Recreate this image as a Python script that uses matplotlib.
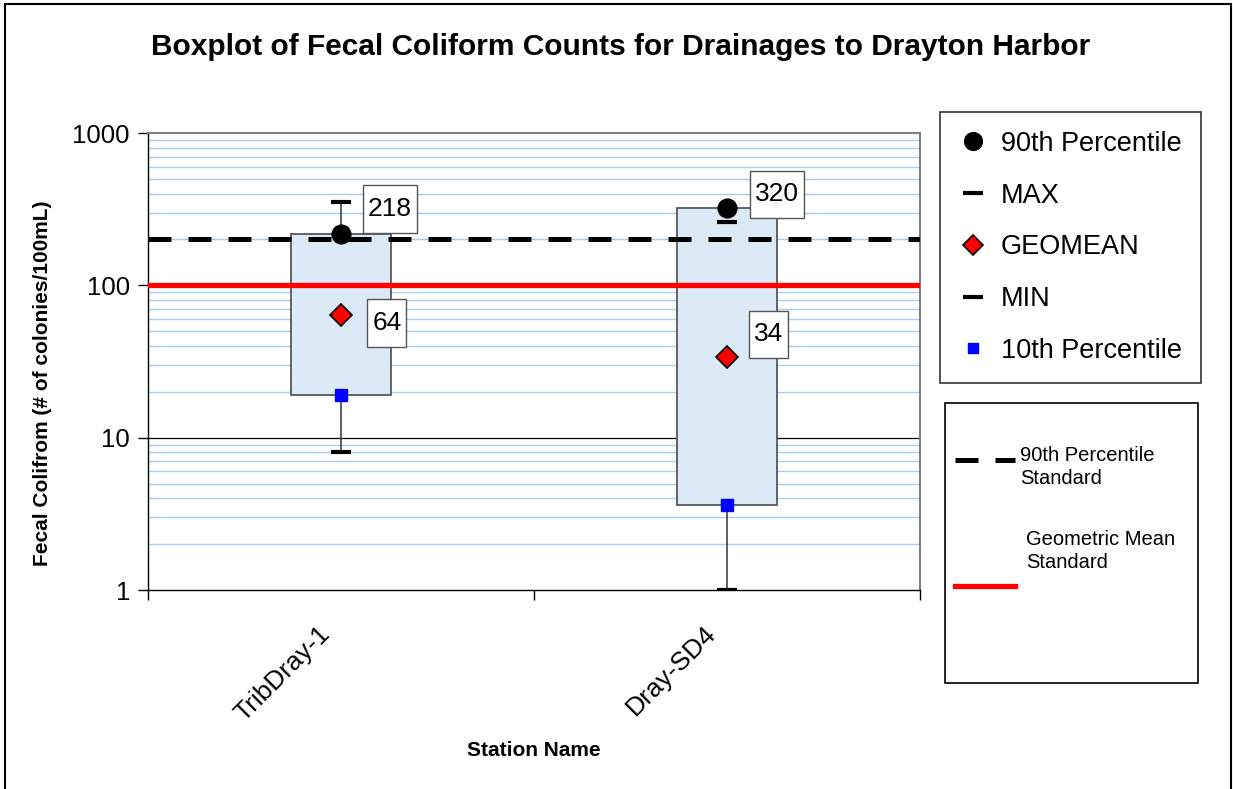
import matplotlib
matplotlib.use("Agg")
import matplotlib.pyplot as plt
import matplotlib.transforms as mtransforms
from matplotlib.lines import Line2D
from matplotlib.patches import Rectangle
from matplotlib.path import Path
from matplotlib.ticker import FixedLocator, FixedFormatter, NullFormatter

plt.rcParams['font.family'] = ['Liberation Sans', 'DejaVu Sans']

# ---- data ----
stations = ['TribDray-1', 'Dray-SD4']
p90 = [218, 320]
vmax = [350, 262]
geomean = [64, 34]
vmin = [8, 1]
p10 = [19, 3.6]
std_90th = 200
std_geomean = 100
ytick_vals = [1, 10, 100, 1000]
ytick_labels = ['1', '10', '100', '1000']

# label offsets (points) for data labels
off_p90 = [(35, 18), (36, 10)]
off_gm = [(33, -6), (30, 16)]

W, H = 1233, 789
fig = plt.figure(figsize=(W / 100, H / 100), dpi=100)
ax = fig.add_axes([148 / W, 1 - 590 / H, (920 - 148) / W, (590 - 133) / H])

x = list(range(len(stations)))
ax.set_yscale('log')
ax.set_ylim(1, 1000)
ax.set_xlim(-0.5, len(stations) - 0.5)

# gridlines: minor light blue, major black
minor_vals = [m * 10 ** e for e in range(0, 3) for m in range(2, 10)]
for v in minor_vals:
    ax.axhline(v, color='#a8cdf0', lw=1.0, zorder=0.5)
ax.axhline(10, color='black', lw=0.9, zorder=0.6)

# whiskers (min to max) behind boxes
for i in x:
    ax.plot([i, i], [vmin[i], vmax[i]], color='#333333', lw=1.1, zorder=1)

# boxes (10th to 90th percentile)
heights = [p90[i] - p10[i] for i in x]
ax.bar(x, heights, bottom=p10, width=0.26, color='#dce9f6',
       edgecolor='#4a4a4a', linewidth=1.2, zorder=2)

# standards
ax.axhline(std_geomean, color='#ff0000', lw=3.8, zorder=3)
ax.axhline(std_90th, color='black', lw=3.6, linestyle=(0, (4.6, 3.4)), zorder=3)

# markers
h90, = ax.plot(x, p90, 'o', color='black', ms=13.5, zorder=5, label='90th Percentile')
hmax, = ax.plot(x, vmax, '_', color='black', ms=15, mew=3, zorder=5, label='MAX')
hgm, = ax.plot(x, geomean, 'D', color='#ff0000', mec='black', mew=1.2, ms=11, zorder=5, label='GEOMEAN')
hmin, = ax.plot(x, vmin, '_', color='black', ms=15, mew=3, zorder=5, label='MIN')
h10, = ax.plot(x, p10, 's', color='#0000ff', ms=8, zorder=5, label='10th Percentile')


def label_box(x0, y0, width, height, mutation_size):
    px = 0.19 * mutation_size
    py = 0.45 * mutation_size
    verts = [(x0 - px, y0 - py), (x0 + width + px, y0 - py),
             (x0 + width + px, y0 + height + py), (x0 - px, y0 + height + py),
             (x0 - px, y0 - py)]
    return Path(verts, closed=True)


# data labels
bbox = dict(boxstyle=label_box, fc='white', ec='#555555', lw=1.0)
for i in x:
    ax.annotate(f'{p90[i]:g}', (i, p90[i]), xytext=off_p90[i], textcoords='offset points',
                ha='center', va='center', fontsize=19, bbox=bbox, zorder=6)
    ax.annotate(f'{geomean[i]:g}', (i, geomean[i]), xytext=off_gm[i], textcoords='offset points',
                ha='center', va='center', fontsize=19, bbox=bbox, zorder=6)

# axes styling
for s in ['top', 'right']:
    ax.spines[s].set_color('#808080')
    ax.spines[s].set_linewidth(1.5)
for s in ['left', 'bottom']:
    ax.spines[s].set_color('black')
    ax.spines[s].set_linewidth(1.0)

ax.yaxis.set_major_locator(FixedLocator(ytick_vals))
ax.yaxis.set_major_formatter(FixedFormatter(ytick_labels))
ax.yaxis.set_minor_locator(FixedLocator([]))
ax.yaxis.set_minor_formatter(NullFormatter())
ax.tick_params(axis='y', which='major', direction='out', length=7, width=1, labelsize=18.5, pad=6)

ax.set_xticks(x)
ax.set_xticklabels(stations, rotation=45, ha='right', rotation_mode='anchor', fontsize=19)
ax.tick_params(axis='x', which='major', length=0, pad=14)
ax.set_xticks([-0.5 + k for k in range(len(stations) + 1)], minor=True)
ax.tick_params(axis='x', which='minor', direction='out', length=7, width=1)
shift = mtransforms.ScaledTranslation(-23 / 100, -12 / 100, fig.dpi_scale_trans)
for lab in ax.get_xticklabels():
    lab.set_transform(lab.get_transform() + shift)

# titles
fig.text(621 / W, 1 - 47 / H, 'Boxplot of Fecal Coliform Counts for Drainages to Drayton Harbor',
         ha='center', va='center', fontsize=21.5, fontweight='bold')
fig.text(43 / W, 1 - 383 / H, 'Fecal Colifrom (# of colonies/100mL)', rotation=90,
         ha='center', va='center', fontsize=15, fontweight='bold')
fig.text(534 / W, 1 - 750 / H, 'Station Name', ha='center', va='center',
         fontsize=15, fontweight='bold')

# legend 1
leg = fig.legend(handles=[h90, hmax, hgm, hmin, h10], loc='upper left',
                 bbox_to_anchor=(940 / W, 1 - 112 / H), fontsize=19.5, frameon=True,
                 fancybox=False, edgecolor='black', labelspacing=0.95, handlelength=1.0,
                 handletextpad=0.55, borderpad=0.7, borderaxespad=0, markerscale=0.95)
leg.get_frame().set_linewidth(1.2)

# legend 2 (manual)
fig.patches.append(Rectangle((945 / W, 1 - 683 / H), (1198 - 945) / W, (683 - 403) / H,
                             transform=fig.transFigure, fill=False, ec='black', lw=1.2))
fig.lines.append(Line2D([955 / W, 1015 / W], [1 - 460 / H] * 2, transform=fig.transFigure,
                        color='black', lw=3.6, linestyle=(0, (4.6, 3.4))))
fig.lines.append(Line2D([955 / W, 1015 / W], [1 - 586 / H] * 2, transform=fig.transFigure,
                        color='#ff0000', lw=3.8))
fig.text(1020 / W, 1 - 467 / H, '90th Percentile\nStandard', ha='left', va='center',
         fontsize=14.5, linespacing=1.3)
fig.text(1026 / W, 1 - 551 / H, 'Geometric Mean\nStandard', ha='left', va='center',
         fontsize=14.5, linespacing=1.3)

# figure border
fig.patches.append(Rectangle((5 / W, -0.01), (1231 - 5) / W, 1.01 - 4 / H,
                             transform=fig.transFigure, fill=False, ec='black', lw=1.5))

fig.savefig('out.png', dpi=100)
